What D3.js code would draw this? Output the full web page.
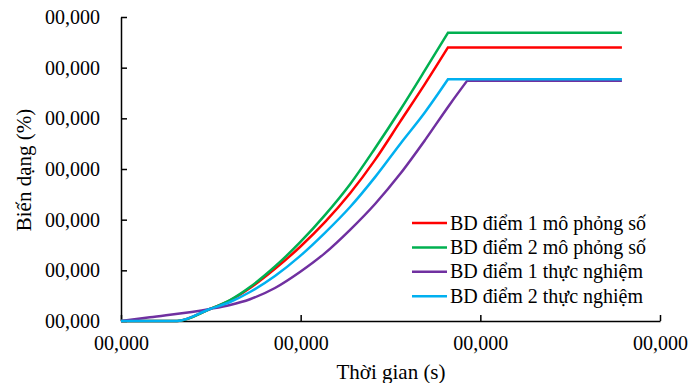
<!DOCTYPE html>
<html>
<head>
<meta charset="utf-8">
<script src="https://cdn.jsdelivr.net/npm/d3@7"></script>
<style>
  body { margin: 0; background: #fff; }
  svg { display: block; }
</style>
</head>
<body>
<svg id="chart" width="692" height="383"></svg>
<script>
(function () {
    'use strict'

    var serif = "'Liberation Serif', 'DejaVu Serif', 'Times New Roman', serif"

    // tick values and their labels as printed on the figure
    var xTicks = [0, 10, 20, 30]
    var xTickLabels = ['00,000', '00,000', '00,000', '00,000']
    var yTicks = [0, 1, 2, 3, 4, 5, 6]
    var yTickLabels = ['00,000', '00,000', '00,000', '00,000', '00,000', '00,000', '00,000']

    // rising parts, each ends where the plateau starts
    var sim1 = [[0, 0], [3.12, 0], [4.95, 0.237], [6.07, 0.405], [7.18, 0.65], [8.57, 1.03],
        [9.96, 1.46], [11.35, 1.95], [12.75, 2.52], [14.14, 3.18], [15.53, 3.93],
        [16.92, 4.68], [18.2, 5.4]]
    var sim2 = [[0, 0], [3.12, 0], [4.95, 0.237], [6.07, 0.414], [7.18, 0.671], [8.57, 1.076],
        [9.96, 1.55], [11.35, 2.09], [12.75, 2.7], [14.14, 3.41], [15.53, 4.16],
        [16.92, 4.95], [18.2, 5.69]]
    var exp1 = [[0, 0], [1.61, 0.073], [4.95, 0.237], [6.07, 0.316], [7.18, 0.43], [8.57, 0.651],
        [9.96, 0.967], [11.35, 1.34], [12.75, 1.8], [14.14, 2.31], [15.53, 2.9],
        [16.92, 3.57], [18.31, 4.28], [19.26, 4.74]]
    var exp2 = [[0, 0], [3.12, 0], [4.95, 0.237], [6.07, 0.375], [7.18, 0.572], [8.57, 0.888],
        [9.96, 1.28], [11.35, 1.74], [12.75, 2.25], [14.14, 2.84], [15.53, 3.49],
        [16.92, 4.12], [18.2, 4.77]]
    var endTime = 27.88

    var names = ['BD điểm 1 mô phỏng số', 'BD điểm 2 mô phỏng số',
        'BD điểm 1 thực nghiệm', 'BD điểm 2 thực nghiệm']
    var colors = ['#ff0000', '#00b050', '#7030a0', '#00b0f0']
    var seriesData = [sim1, sim2, exp1, exp2]

    var svg = d3.select('#chart')
    var x = d3.scaleLinear().domain([0, 30]).range([121, 660])
    var y = d3.scaleLinear().domain([0, 6]).range([321, 17])

    // x axis
    svg.append('g')
        .attr('transform', 'translate(0,' + y(0) + ')')
        .call(d3.axisBottom(x).tickValues(xTicks)
            .tickFormat(function (d, i) { return xTickLabels[i] })
            .tickSizeInner(-6).tickSizeOuter(0).tickPadding(15))

    // y axis
    svg.append('g')
        .attr('transform', 'translate(' + x(0) + ',0)')
        .call(d3.axisLeft(y).tickValues(yTicks)
            .tickFormat(function (d, i) { return yTickLabels[i] })
            .tickSizeInner(-6).tickSizeOuter(0).tickPadding(21))

    svg.selectAll('g').attr('font-family', serif)
    svg.selectAll('.domain, .tick line')
        .attr('stroke', '#000').attr('stroke-width', 1.5)
    svg.selectAll('.tick text')
        .attr('fill', '#000').attr('font-size', 20)

    // series: smooth rise, then a straight plateau
    var rise = d3.line()
        .x(function (d) { return x(d[0]) })
        .y(function (d) { return y(d[1]) })
        .curve(d3.curveMonotoneX)

    seriesData.forEach(function (s, i) {
        var last = s[s.length - 1]
        svg.append('path')
            .attr('d', rise(s) + 'L' + x(endTime) + ',' + y(last[1]))
            .attr('fill', 'none')
            .attr('stroke', colors[i])
            .attr('stroke-width', 2.5)
    })

    // legend
    var legend = svg.append('g').attr('transform', 'translate(412,223)')
        .attr('font-family', serif).attr('font-size', 20)
    names.forEach(function (n, i) {
        var row = legend.append('g').attr('transform', 'translate(0,' + i * 24.4 + ')')
        row.append('line')
            .attr('x1', 0).attr('x2', 35)
            .attr('stroke', colors[i]).attr('stroke-width', 2.5)
        row.append('text')
            .attr('x', 38).attr('dy', '0.33em')
            .text(n)
    })

    // axis titles
    svg.append('text')
        .attr('x', 391).attr('y', 379)
        .attr('text-anchor', 'middle')
        .attr('font-family', serif).attr('font-size', 21)
        .text('Thời gian (s)')

    svg.append('text')
        .attr('transform', 'translate(31,170) rotate(-90)')
        .attr('text-anchor', 'middle')
        .attr('font-family', serif).attr('font-size', 21)
        .text('Biến dạng (%)')
})()
</script>
</body>
</html>
